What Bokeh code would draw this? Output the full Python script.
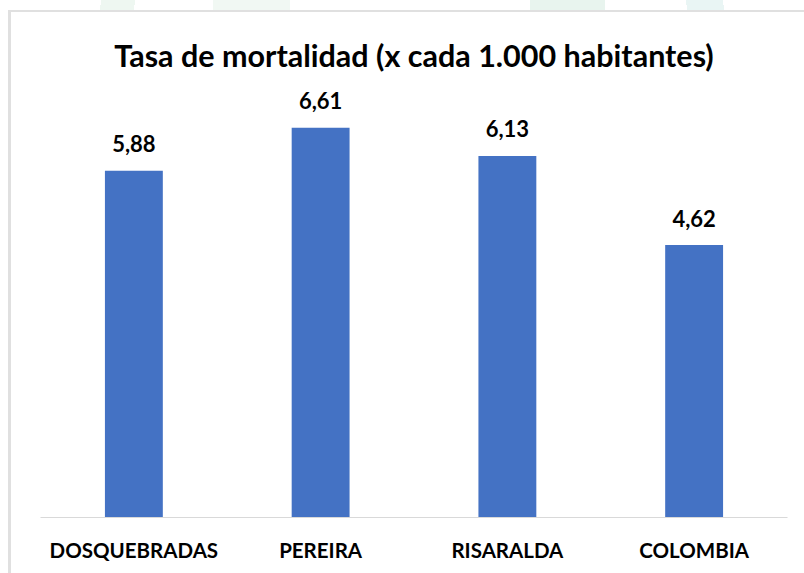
from bokeh.plotting import figure
from bokeh.models import ColumnDataSource, Range1d, FactorRange
from bokeh.core.properties import value
from bokeh.embed import file_html
from bokeh.resources import INLINE

categories = ["DOSQUEBRADAS", "PEREIRA", "RISARALDA", "COLOMBIA"]
rates = [5.88, 6.61, 6.13, 4.62]
rate_labels = ["5,88", "6,61", "6,13", "4,62"]
title_text = "Tasa de mortalidad (x cada 1.000 habitantes)"

FONT = "Lato"
W, H = 804, 573

src = ColumnDataSource(dict(cat=categories, val=rates, lab=rate_labels))

p = figure(
    x_range=FactorRange(*categories, range_padding=0.0),
    y_range=Range1d(0, 7.41),
    width=W, height=H,
    output_backend="svg", toolbar_location=None,
    min_border_left=40, min_border_right=17,
    min_border_top=80, min_border_bottom=56,
    border_fill_color=None,
)

# chart box border (cut off at the right and bottom, as in the reference)
# plus the faint green background decoration peeking out above the box
p.styles = {
    "background": (
        "linear-gradient(#e0e0e0, #e0e0e0) 8px 10px / 3px 600px no-repeat, "
        "linear-gradient(#e0e0e0, #e0e0e0) 8px 10px / 820px 2px no-repeat, "
        "linear-gradient(100deg, transparent 20%, #eef7f1 20%, #eef7f1 80%, transparent 80%) 90px 0px / 55px 10px no-repeat, "
        "linear-gradient(#f1f8f3, #f1f8f3) 213px 0px / 77px 10px no-repeat, "
        "linear-gradient(#e8f4ee, #e8f4ee) 530px 0px / 75px 10px no-repeat, "
        "linear-gradient(80deg, transparent 20%, #e9f5f4 20%, #e9f5f4 80%, transparent 80%) 675px 0px / 60px 10px no-repeat, "
        "#ffffff"
    )
}

p.title.text = title_text
p.title.align = "center"
p.title.text_font = FONT
p.title.text_font_size = "30.5px"
p.title.text_font_style = "bold"
p.title.text_color = "#000000"
p.title.standoff = 16

p.vbar(x="cat", top="val", width=0.31, source=src, color="#4472C4", line_color=None)

p.text(x="cat", y="val", text="lab", source=src, y_offset=-27,
       text_align="center", text_baseline="alphabetic",
       text_font=value(FONT), text_font_size="22px", text_font_style="bold",
       text_color="#000000")

p.outline_line_color = None
p.background_fill_color = "#ffffff"
p.xgrid.grid_line_color = None
p.ygrid.grid_line_color = None
p.yaxis.visible = False
p.xaxis.axis_line_color = "#d9d9d9"
p.xaxis.axis_line_width = 1
p.xaxis.major_tick_line_color = None
p.xaxis.minor_tick_line_color = None
p.xaxis.major_tick_out = 0
p.xaxis.major_tick_in = 0
p.xaxis.major_label_standoff = 20
p.xaxis.major_label_text_font = FONT
p.xaxis.major_label_text_font_size = "20.5px"
p.xaxis.major_label_text_font_style = "bold"
p.xaxis.major_label_text_color = "#000000"

open("out.html", "w").write(file_html(p, INLINE))
